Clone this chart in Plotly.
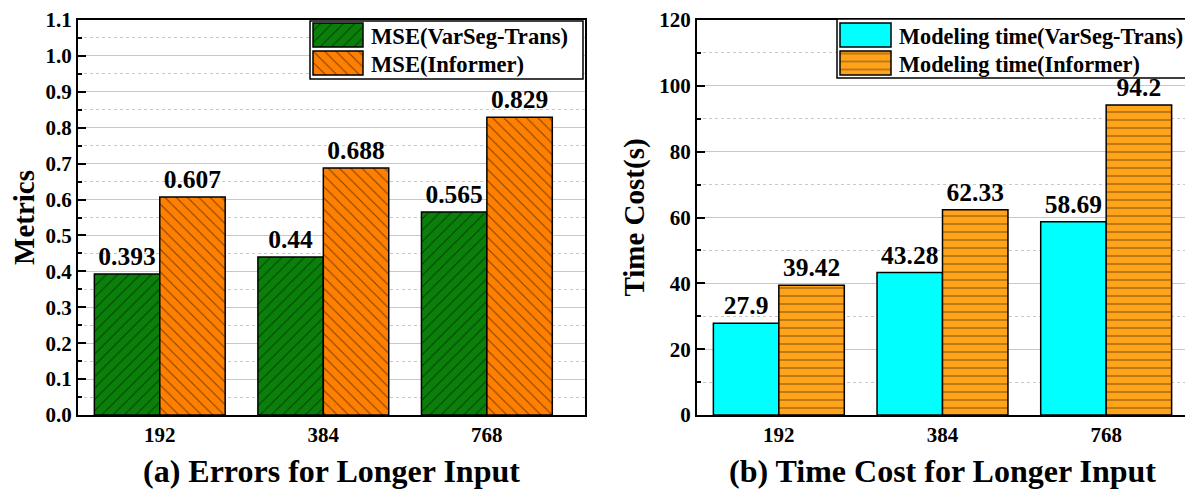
import plotly.graph_objects as go

categories = ["192", "384", "768"]
mse_varseg = [0.393, 0.44, 0.565]
mse_informer = [0.607, 0.688, 0.829]
time_varseg = [27.9, 43.28, 58.69]
time_informer = [39.42, 62.33, 94.2]
mse_labels_varseg = ["0.393", "0.44", "0.565"]
mse_labels_informer = ["0.607", "0.688", "0.829"]
time_labels_varseg = ["27.9", "43.28", "58.69"]
time_labels_informer = ["39.42", "62.33", "94.2"]
legend_names_a = ["MSE(VarSeg-Trans)", "MSE(Informer)"]
legend_names_b = ["Modeling time(VarSeg-Trans)", "Modeling time(Informer)"]

# page offset (browser body margin) compensation
OX, OY = 8, 8
W, H = 1193 - OX, 493 - OY
FONT = "Liberation Serif, Times New Roman, serif"


def px(sx):
    return (sx - OX) / W


def py(sy):
    return 1 - (sy - OY) / H


GREEN, ORANGE_A, CYAN, ORANGE_B = "#0a800a", "#ff8000", "#00ffff", "#ffa31a"
styles = {
    "a0": (GREEN, "/"),
    "a1": (ORANGE_A, "\\"),
    "b0": (CYAN, ""),
    "b1": (ORANGE_B, "-"),
}


def pattern(shape):
    return dict(shape=shape, fgcolor="black", size=8, solidity=0.13) if shape else None


fig = go.Figure()


def bar(x, y, text, name, key, xa, ya):
    color, shape = styles[key]
    return go.Bar(
        x=x, y=y, text=text, name=name, xaxis=xa, yaxis=ya, showlegend=False,
        textposition="outside", cliponaxis=False,
        textfont=dict(family=FONT, size=25.5, color="black", weight="bold"),
        marker=dict(color=color, line=dict(color="black", width=1.5), pattern=pattern(shape)),
    )


fig.add_trace(bar(categories, mse_varseg, mse_labels_varseg, legend_names_a[0], "a0", "x", "y"))
fig.add_trace(bar(categories, mse_informer, mse_labels_informer, legend_names_a[1], "a1", "x", "y"))
fig.add_trace(bar(categories, time_varseg, time_labels_varseg, legend_names_b[0], "b0", "x2", "y2"))
fig.add_trace(bar(categories, time_informer, time_labels_informer, legend_names_b[1], "b1", "x2", "y2"))

ydom = [py(415), py(20)]
tickfont = dict(family=FONT, size=21, color="black", weight="bold")

common_x = dict(showline=True, linecolor="black", linewidth=2, mirror=True, ticks="",
                tickfont=tickfont, showgrid=False, automargin=False)
common_y = dict(showline=True, linecolor="black", linewidth=2, mirror=True,
                ticks="inside", ticklen=8, tickcolor="black", tickwidth=1.5,
                tickfont=tickfont, showgrid=True, gridcolor="#c8c8c8", gridwidth=1,
                zeroline=False, automargin=False)

layout = dict(
    width=W, height=H, margin=dict(l=0, r=0, t=0, b=0, autoexpand=False),
    paper_bgcolor="white", plot_bgcolor="rgba(0,0,0,0)",
    barmode="group", bargap=0.2, bargroupgap=0,
    font=dict(family=FONT, color="black"),
    showlegend=False,
    xaxis=dict(domain=[px(78), px(585)], anchor="y", range=[-0.5, 2.6], **common_x),
    xaxis2=dict(domain=[px(697), px(1188)], anchor="y2", range=[-0.5, 2.5], **common_x),
    yaxis=dict(domain=ydom, anchor="x", range=[0, 1.1], dtick=0.1, tickformat=".1f",
               minor=dict(dtick=0.05, ticks="inside", ticklen=4, tickcolor="black",
                          showgrid=True, gridcolor="#c8c8c8", griddash="dot"),
               title=dict(text="Metrics", font=dict(family=FONT, size=29, weight="bold"), standoff=6),
               **common_y),
    yaxis2=dict(domain=ydom, anchor="x2", range=[0, 120], dtick=20,
                minor=dict(dtick=10, ticks="inside", ticklen=4, tickcolor="black",
                           showgrid=True, gridcolor="#c8c8c8", griddash="dot"),
                title=dict(text="Time Cost(s)", font=dict(family=FONT, size=29, weight="bold"), standoff=6),
                **common_y),
)

annotations = [
    dict(text="(a) Errors for Longer Input", x=px((78 + 585) / 2), y=py(471),
         xref="paper", yref="paper", showarrow=False, xanchor="center", yanchor="middle",
         font=dict(family=FONT, size=32, weight="bold")),
    dict(text="(b) Time Cost for Longer Input", x=px((697 + 1188) / 2), y=py(471),
         xref="paper", yref="paper", showarrow=False, xanchor="center", yanchor="middle",
         font=dict(family=FONT, size=32, weight="bold")),
]

# custom legends: box + swatches drawn as bars on small auxiliary axes
aux_n = [3]


def aux_box(rect, color, shape, lw=1.5):
    n = aux_n[0]
    aux_n[0] += 1
    x0, y0, x1, y1 = rect
    pad = 1.5
    w, h = x1 - x0, y1 - y0
    hx = 0.5 * (w + 2 * pad) / w
    ey = pad / h
    layout[f"xaxis{n}"] = dict(domain=[px(x0 - pad), px(x1 + pad)], range=[-hx, hx],
                               visible=False, fixedrange=True, anchor=f"y{n}")
    layout[f"yaxis{n}"] = dict(domain=[py(y1 + pad), py(y0 - pad)], range=[-ey, 1 + ey],
                               visible=False, fixedrange=True, anchor=f"x{n}")
    fig.add_trace(go.Bar(x=[0], y=[1], width=[1], xaxis=f"x{n}", yaxis=f"y{n}",
                         showlegend=False, hoverinfo="skip",
                         marker=dict(color=color, line=dict(color="black", width=lw),
                                     pattern=pattern(shape))))


legend_boxes = [(310, 21, 583, 79), (837, 19, 1187, 78)]
for b in legend_boxes:
    aux_box(b, "white", "")

legend_rows = [(23, 47, 35), (51, 75, 63)]
for (bx0, _, _, _), sw_x1, txt_x, names, keys, fs in [
    (legend_boxes[0], 363, 369, legend_names_a, ["a0", "a1"], 22.6),
    (legend_boxes[1], 891, 897, legend_names_b, ["b0", "b1"], 22.3),
]:
    for (ry0, ry1, rc), name, key in zip(legend_rows, names, keys):
        color, shape = styles[key]
        aux_box((bx0 + 3, ry0, sw_x1, ry1), color, shape)
        annotations.append(dict(text=name, x=px(txt_x), y=py(rc + 1), xref="paper", yref="paper",
                                showarrow=False, xanchor="left", yanchor="middle",
                                font=dict(family=FONT, size=fs, weight="bold", color="black")))

layout["annotations"] = annotations
fig.update_layout(**layout)

fig.write_html("out.html")
